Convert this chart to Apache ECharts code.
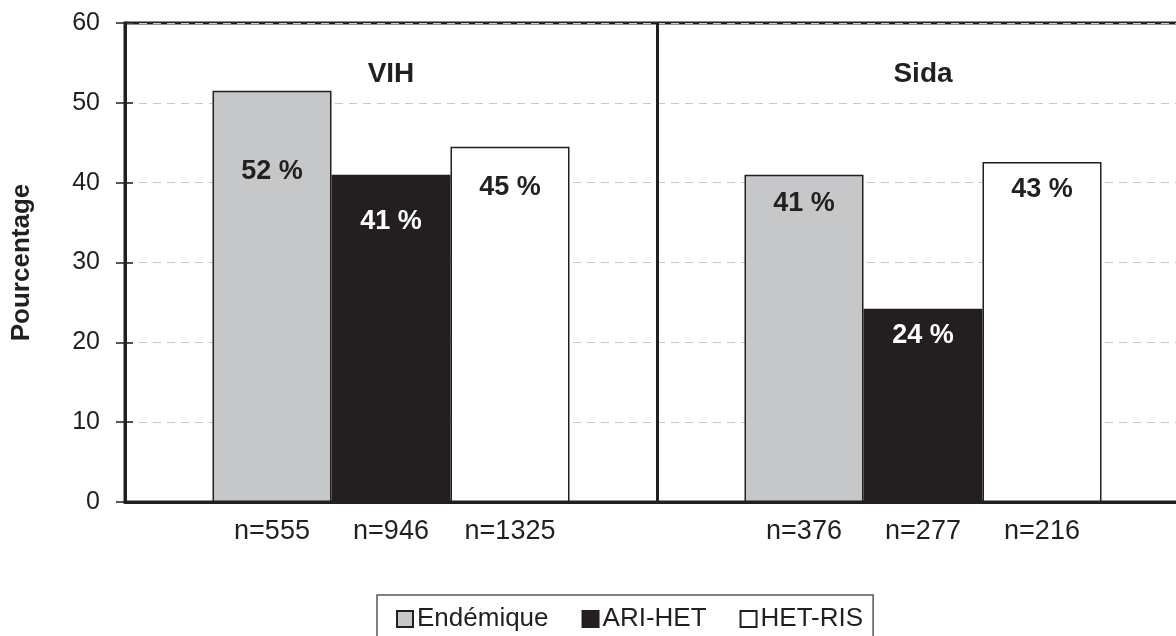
<!DOCTYPE html>
<html>
<head>
<meta charset="utf-8">
<script src="https://cdn.jsdelivr.net/npm/echarts@6/dist/echarts.min.js"></script>
<style>
html,body{margin:0;padding:0;background:#fff;}
#c{width:1176px;height:636px;}
</style>
</head>
<body>
<div id="c"></div>
<script>
// ---- data ----
const groups = ['VIH', 'Sida'];
const seriesNames = ['Endémique', 'ARI-HET', 'HET-RIS'];
const endemique = [51.5, 41.0];
const ariHet = [41.0, 24.2];
const hetRis = [44.5, 42.6];
const nEndemique = ['n=555', 'n=376'];
const nAriHet = ['n=946', 'n=277'];
const nHetRis = ['n=1325', 'n=216'];
const yTicks = [0, 10, 20, 30, 40, 50, 60];

// ---- styles ----
const INK = '#231f20';
const FONT = '"Liberation Sans", Arial, Helvetica, sans-serif';
const fills = ['#c6c7c9', '#231f20', '#ffffff'];
const pctColors = ['#231f20', '#ffffff', '#231f20'];
const pctGap = [[67, 15], [33, 13], [27, 14]]; // label distance from bar top (per series, per group)

const values = [endemique, ariHet, hetRis];
const nLabels = [nEndemique, nAriHet, nHetRis];

const mainSeries = values.map((vals, s) => ({
  name: seriesNames[s],
  type: 'bar',
  xAxisIndex: 0,
  yAxisIndex: 0,
  barWidth: 119,
  barGap: '0%',
  itemStyle: {color: fills[s], borderColor: INK, borderWidth: 1.5},
  data: vals.map((v, g) => ({
    value: v,
    label: {distance: pctGap[s][g]}
  })),
  label: {
    show: true,
    position: 'insideTop',
    formatter: p => Math.round(p.value) + ' %',
    color: pctColors[s],
    fontFamily: FONT,
    fontWeight: 'bold',
    fontSize: 27
  },
  z: 3
}));

const ghostSeries = values.map((vals, s) => ({
  name: 'n_' + seriesNames[s],
  type: 'bar',
  xAxisIndex: 1,
  yAxisIndex: 0,
  barWidth: 119,
  barGap: '0%',
  itemStyle: {color: 'rgba(0,0,0,0)'},
  data: vals.slice(),
  label: {
    show: true,
    position: 'bottom',
    distance: 16,
    formatter: p => nLabels[s][p.dataIndex],
    color: INK,
    fontFamily: FONT,
    fontSize: 27
  },
  silent: true,
  z: 1
}));

const chart = echarts.init(document.getElementById('c'), null, {renderer: 'canvas'});
chart.setOption({
  backgroundColor: '#ffffff',
  animation: false,
  textStyle: {fontFamily: FONT, color: INK},
  grid: {
    left: 125, top: 23, width: 1064, height: 479,
    show: true, borderColor: INK, borderWidth: 3, backgroundColor: 'rgba(0,0,0,0)',
    containLabel: false,
    outerBoundsMode: 'none'
  },
  legend: {
    data: seriesNames,
    left: 377, top: 595,
    orient: 'horizontal',
    itemWidth: 16, itemHeight: 16, itemGap: 33,
    padding: [11, 10, 30, 19],
    borderColor: '#555',
    borderWidth: 1.5,
    icon: 'rect',
    textStyle: {fontFamily: FONT, fontSize: 26, color: INK, padding: [0, 0, 0, -1]}
  },
  xAxis: [
    {
      type: 'category',
      data: groups,
      position: 'bottom',
      boundaryGap: true,
      axisLine: {show: true, lineStyle: {color: INK, width: 3}},
      axisTick: {show: false},
      axisLabel: {show: false},
      splitLine: {show: true, lineStyle: {color: INK, width: 3}}
    },
    {
      type: 'category',
      data: groups,
      position: 'top',
      boundaryGap: true,
      axisLine: {show: false},
      axisTick: {show: false},
      splitLine: {show: false},
      axisLabel: {
        show: true, inside: true, margin: 37,
        fontFamily: FONT, fontWeight: 'bold', fontSize: 28, color: INK
      }
    }
  ],
  yAxis: [
    {
      type: 'value',
      min: yTicks[0], max: yTicks[yTicks.length - 1], interval: 10,
      name: 'Pourcentage',
      nameLocation: 'middle',
      nameGap: 90,
      nameRotate: 90,
      nameTextStyle: {fontFamily: FONT, fontWeight: 'bold', fontSize: 26, color: INK},
      axisLine: {show: true, lineStyle: {color: INK, width: 3}},
      axisTick: {show: true, inside: false, length: 9, lineStyle: {color: INK, width: 1.5}},
      axisLabel: {fontFamily: FONT, fontSize: 25, color: INK, margin: 25},
      splitLine: {show: true, lineStyle: {color: '#c8c8c8', width: 1.2, type: [8, 6]}}
    },
    {
      type: 'value',
      min: yTicks[0], max: yTicks[yTicks.length - 1], interval: 10,
      position: 'left',
      axisLine: {show: false},
      axisTick: {show: true, inside: true, length: 8, lineStyle: {color: INK, width: 1.5}},
      axisLabel: {show: false},
      splitLine: {show: false}
    }
  ],
  series: mainSeries.concat(ghostSeries)
});
</script>
</body>
</html>
